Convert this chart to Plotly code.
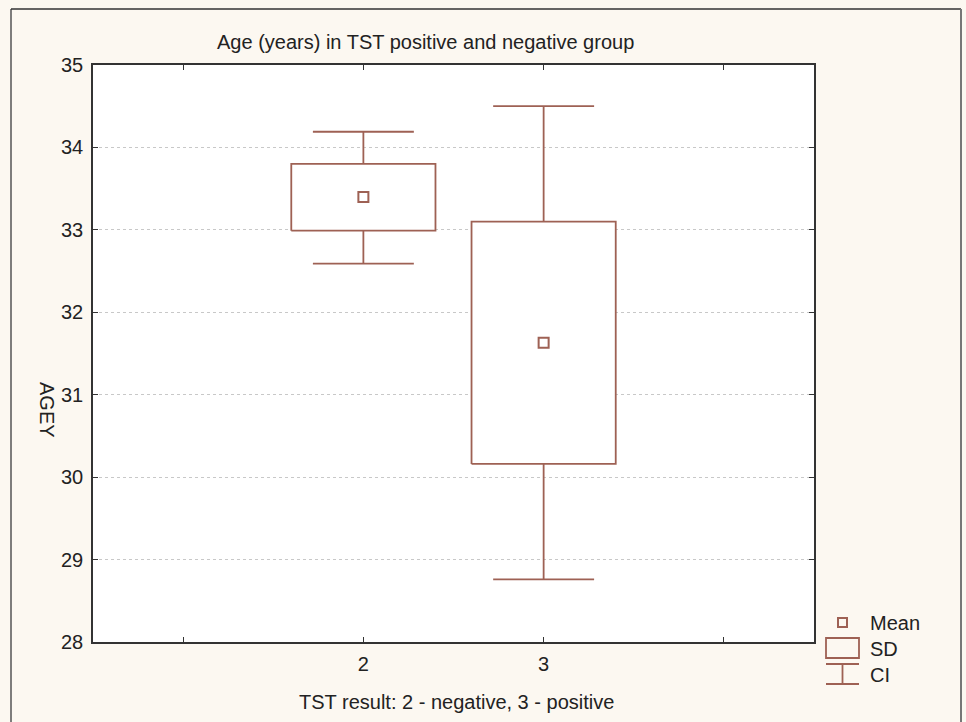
import plotly.graph_objects as go

# ---- data ----
groups = [2, 3]
means = [33.4, 31.63]
sd_low = [32.99, 30.16]
sd_high = [33.8, 33.1]
ci_low = [32.59, 28.76]
ci_high = [34.19, 34.5]
x_tickvals = [1, 2, 3, 4]
x_ticktext = ["", "2", "3", ""]

# ---- style ----
W, H = 966, 722
ML, MR, MT, MB = 93, 152, 65, 80
BOX_HALF = 0.4
CAP_HALF = 0.28
COL = "#9E6154"
LW = 1.8
FONT = "Liberation Sans, Arial, sans-serif"
TXT = "#222222"
BG = "#FCF8F1"
FS = 20

PW = W - ML - MR
PH = H - MT - MB


def px(x):
    return (x - ML) / PW


def py(y):
    return (H - MB - y) / PH


# build paths from the data
wx, wy = [], []
bx, by = [], []
for g, lo, hi, cl, ch in zip(groups, sd_low, sd_high, ci_low, ci_high):
    wx += [g, g, None, g, g, None,
           g - CAP_HALF, g + CAP_HALF, None, g - CAP_HALF, g + CAP_HALF, None]
    wy += [hi, ch, None, lo, cl, None, ch, ch, None, cl, cl, None]
    bx += [g - BOX_HALF, g + BOX_HALF, g + BOX_HALF, g - BOX_HALF, g - BOX_HALF, None]
    by += [lo, lo, hi, hi, lo, None]

fig = go.Figure()
fig.add_trace(go.Scatter(x=wx, y=wy, mode="lines", line=dict(color=COL, width=LW),
                         name="CI", showlegend=False, hoverinfo="skip"))
fig.add_trace(go.Scatter(x=bx, y=by, mode="lines", fill="toself", fillcolor="white",
                         line=dict(color=COL, width=LW), name="SD", showlegend=False,
                         hoverinfo="skip"))
fig.add_trace(go.Scatter(x=groups, y=means, mode="markers",
                         marker=dict(symbol="square-open", size=10,
                                     line=dict(color=COL, width=2), color=COL),
                         name="Mean", showlegend=False))

shapes = []
# outer frame
shapes.append(dict(type="line", xref="paper", yref="paper", x0=px(11), x1=px(11),
                   y0=py(9), y1=py(730), line=dict(color="#555555", width=1.5)))
shapes.append(dict(type="line", xref="paper", yref="paper", x0=px(11), x1=px(961),
                   y0=py(9), y1=py(9), line=dict(color="#333333", width=1.5)))
shapes.append(dict(type="line", xref="paper", yref="paper", x0=px(961), x1=px(961),
                   y0=py(9), y1=py(730), line=dict(color="#777777", width=2)))

# legend icons
shapes.append(dict(type="rect", xref="paper", yref="paper", x0=px(838), x1=px(847),
                   y0=py(627), y1=py(618), line=dict(color=COL, width=2)))
shapes.append(dict(type="rect", xref="paper", yref="paper", x0=px(826), x1=px(859),
                   y0=py(658), y1=py(638), line=dict(color=COL, width=LW)))
for (x0, x1, y0, y1) in [(826, 859, 664, 664), (826, 859, 684, 684), (842.5, 842.5, 664, 684)]:
    shapes.append(dict(type="line", xref="paper", yref="paper", x0=px(x0), x1=px(x1),
                       y0=py(y0), y1=py(y1), line=dict(color=COL, width=LW)))

annotations = [
    dict(text="Age (years) in TST positive and negative group", x=px(425), y=py(42),
         xref="paper", yref="paper", showarrow=False, xanchor="center", yanchor="middle",
         font=dict(size=FS, color=TXT, family=FONT)),
    dict(text="AGEY", x=px(47), y=py(410), xref="paper", yref="paper", showarrow=False,
         textangle=90, xanchor="center", yanchor="middle",
         font=dict(size=FS, color=TXT, family=FONT)),
    dict(text="TST result: 2 - negative, 3 - positive", x=px(456), y=py(702),
         xref="paper", yref="paper", showarrow=False, xanchor="center", yanchor="middle",
         font=dict(size=FS, color=TXT, family=FONT)),
]
for label, yy in [("Mean", 623), ("SD", 649), ("CI", 675)]:
    annotations.append(dict(text=label, x=px(868), y=py(yy), xref="paper", yref="paper",
                            showarrow=False, xanchor="left", yanchor="middle",
                            font=dict(size=FS, color=TXT, family=FONT)))

fig.update_layout(
    width=W, height=H,
    margin=dict(l=ML, r=MR, t=MT, b=MB, pad=0),
    paper_bgcolor=BG, plot_bgcolor="white",
    showlegend=False,
    shapes=shapes, annotations=annotations,
    font=dict(family=FONT, color=TXT, size=FS),
)
fig.update_xaxes(range=[0.5, 4.5], tickvals=x_tickvals, ticktext=x_ticktext,
                 ticks="inside", ticklen=5, tickcolor="#333333", showgrid=False,
                 showline=True, linecolor="#333333", linewidth=1.5, mirror="ticks",
                 zeroline=False, tickfont=dict(size=FS, color=TXT, family=FONT),
                 ticklabelstandoff=3)
fig.update_yaxes(range=[28, 35], dtick=1, ticks="inside", ticklen=5, tickcolor="#333333",
                 showgrid=True, gridcolor="#C8C8C8", griddash="dot", gridwidth=1,
                 showline=True, linecolor="#333333", linewidth=1.5, mirror="ticks",
                 zeroline=False, tickfont=dict(size=FS, color=TXT, family=FONT),
                 ticklabelstandoff=4)

fig.write_html("out.html")
